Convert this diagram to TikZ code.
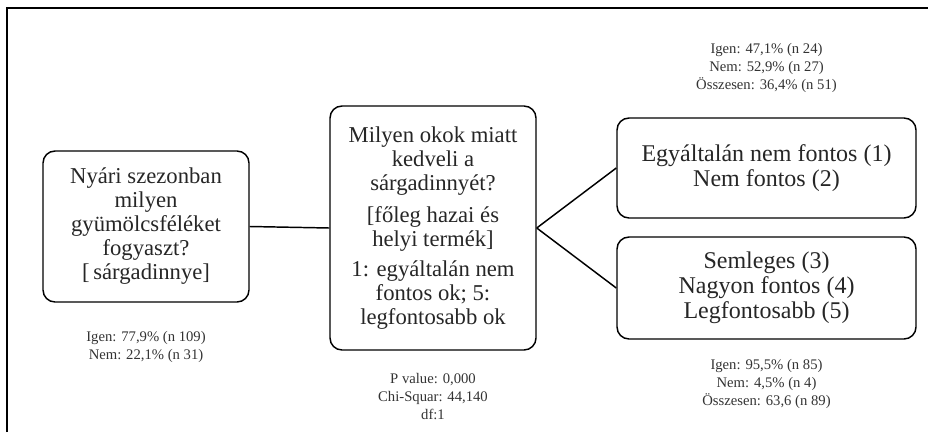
\documentclass[tikz,border=0pt]{standalone}
\usepackage{fontspec}
\setmainfont{Liberation Serif}
\begin{document}
\begin{tikzpicture}[x=0.75pt,y=-0.75pt,
  box/.style={draw, line width=1.1pt, rounded corners=9pt, align=center,
    font=\fontsize{17}{18}\selectfont, inner sep=0pt, text=black!85},
  widebox/.style={box, font=\fontsize{18}{18.75}\selectfont},
  stat/.style={align=center, font=\fontsize{11}{13.5}\selectfont, text=black!80}]

  \useasboundingbox (0,0) rectangle (928,432);

  % Frame
  \draw [line width=0.9pt] (7,432) -- (7,8) -- (928,8);

  % Boxes
  \node [box, minimum width=154.5pt, minimum height=113.25pt] (quest) at (146,226.5)
    {Nyári szezonban\\milyen\\gyümölcsféléket\\fogyaszt?\\{[}\,sárgadinnye{]}};
  \node [box, minimum width=154.5pt, minimum height=183pt] (reason) at (433,228)
    {Milyen okok miatt\\kedveli a\\sárgadinnyét?\\[6pt]
     {[}főleg hazai és\\helyi termék{]}\\[5pt]
     1: egyáltalán nem\\fontos ok; 5:\\legfontosabb ok};
  \node [widebox, minimum width=224.25pt, minimum height=75pt] (low) at (766.5,168)
    {Egyáltalán nem fontos (1)\\Nem fontos (2)};
  \node [widebox, minimum width=224.25pt, minimum height=76.5pt] (high) at (766.5,288)
    {Semleges (3)\\Nagyon fontos (4)\\Legfontosabb (5)};

  % Statistics
  \node [stat] (questStat) at (146,347) {Igen: 77,9\% (n 109)\\Nem: 22,1\% (n 31)};
  \node [stat] (reasonStat) at (433,397) {P value: 0,000\\Chi-Squar: 44,140\\df:1};
  \node [stat] (lowStat) at (766.5,68) {Igen: 47,1\% (n 24)\\Nem: 52,9\% (n 27)\\Összesen: 36,4\% (n 51)};
  \node [stat] (highStat) at (766.5,384) {Igen: 95,5\% (n 85)\\Nem: 4,5\% (n 4)\\Összesen: 63,6 (n 89)};

  % Connectors
  \draw [line width=1.1pt] (quest.east) -- (reason.west);
  \draw [line width=1.1pt] (reason.east) -- (low.west);
  \draw [line width=1.1pt] (reason.east) -- (high.west);

\end{tikzpicture}
\end{document}
